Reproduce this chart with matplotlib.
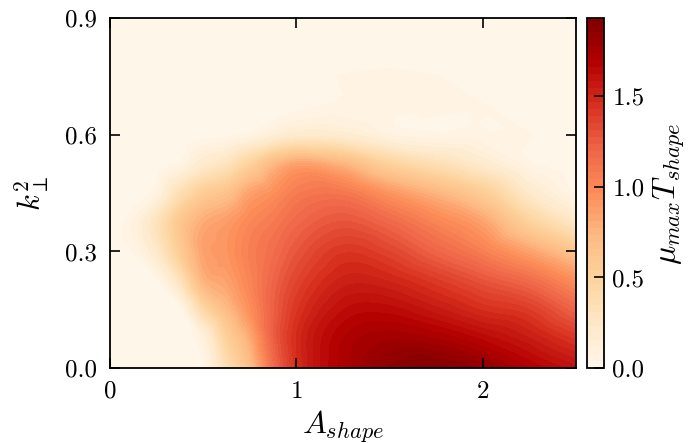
import numpy as np
import matplotlib
matplotlib.use("Agg")
import matplotlib.pyplot as plt
import matplotlib.tri as mtri

plt.rcParams['font.family'] = 'serif'
plt.rcParams['font.serif'] = ['cmr10', 'DejaVu Serif']
plt.rcParams['mathtext.fontset'] = 'cm'
plt.rcParams['axes.unicode_minus'] = False
plt.rcParams['axes.formatter.use_mathtext'] = True

# grid of A_shape (x) and k_perp^2 (y)
a_shape = [0.0, 0.125, 0.25, 0.375, 0.5, 0.625, 0.75, 0.875, 1.0, 1.25, 1.5, 1.75, 2.0, 2.25, 2.5]
k_perp2 = [0.0, 0.075, 0.15, 0.225, 0.3, 0.375, 0.45, 0.525, 0.6, 0.675, 0.75, 0.825, 0.9]

# mu_max * T_shape, one list per A_shape column (values along k_perp^2)
col_000 = [0, 0, 0, 0, 0, 0, 0, 0, 0, 0, 0, 0, 0]
col_0125 = [0, 0, 0, 0, 0.04, 0.08, 0, 0, 0, 0, 0, 0, 0]
col_025 = [0, 0, 0, 0.02, 0.22, 0.3, 0.08, 0, 0, 0, 0, 0, 0]
col_0375 = [0, 0, 0.02, 0.3, 0.55, 0.6, 0.35, 0.05, 0, 0, 0, 0, 0]
col_050 = [0.02, 0.1, 0.42, 0.75, 0.85, 0.8, 0.55, 0.2, 0.02, 0, 0, 0, 0]
col_0625 = [0.35, 0.5, 0.7, 0.85, 0.92, 0.88, 0.65, 0.3, 0.02, 0, 0, 0, 0]
col_075 = [0.68, 0.8, 0.95, 1.02, 1.05, 1.0, 0.85, 0.5, 0.06, 0, 0, 0, 0]
col_0875 = [1.15, 1.22, 1.22, 1.2, 1.15, 1.08, 0.95, 0.72, 0.14, 0, 0, 0, 0]
col_100 = [1.45, 1.47, 1.42, 1.35, 1.27, 1.18, 1.07, 0.85, 0.2, 0.02, 0, 0, 0]
col_125 = [1.72, 1.7, 1.62, 1.52, 1.42, 1.28, 1.1, 0.75, 0.18, 0.05, 0.04, 0, 0]
col_150 = [1.86, 1.77, 1.64, 1.5, 1.35, 1.18, 0.92, 0.5, 0.08, 0.05, 0.05, 0, 0]
col_175 = [1.91, 1.74, 1.56, 1.4, 1.2, 1.02, 0.75, 0.35, 0.05, 0.05, 0.04, 0, 0]
col_200 = [1.84, 1.65, 1.46, 1.28, 1.05, 0.85, 0.55, 0.2, 0.05, 0.04, 0, 0, 0]
col_225 = [1.7, 1.55, 1.39, 1.16, 0.85, 0.5, 0.22, 0.05, 0.04, 0, 0, 0, 0]
col_250 = [1.6, 1.42, 1.2, 0.95, 0.62, 0.25, 0.03, 0, 0, 0, 0, 0, 0]

growth = np.array([col_000, col_0125, col_025, col_0375, col_050, col_0625, col_075,
                   col_0875, col_100, col_125, col_150, col_175, col_200, col_225,
                   col_250]).T

fig = plt.figure(figsize=(6.91, 4.43), dpi=100)
ax = fig.add_axes([0.159, 0.169, 0.675, 0.790])
cax = fig.add_axes([0.849, 0.169, 0.025, 0.790])

# smooth the coarse grid for drawing
X, Y = np.meshgrid(a_shape, k_perp2)
tri = mtri.Triangulation(X.ravel(), Y.ravel())
interp = mtri.CubicTriInterpolator(tri, growth.ravel(), kind='geom')
refiner = mtri.UniformTriRefiner(tri)
tri_f, z_f = refiner.refine_field(growth.ravel(), triinterpolator=interp, subdiv=3)
z_f = np.clip(z_f, 0, 1.929)

levels = np.linspace(0, 1.93, 51)
cs = ax.tricontourf(tri_f, z_f, levels=levels, cmap='OrRd')

ax.set_xlim(0, 2.5)
ax.set_ylim(0, 0.9)
ax.set_xticks([0, 1, 2])
ax.set_yticks([0.0, 0.3, 0.6, 0.9])
ax.set_yticklabels(['0.0', '0.3', '0.6', '0.9'])
ax.tick_params(direction='in', length=7, width=1.2, labelsize=18, pad=9,
               top=True, right=True)
for s in ax.spines.values():
    s.set_linewidth(1.3)
ax.set_xlabel(r'$A_{shape}$', fontsize=23, labelpad=4)
ax.set_ylabel(r'$k_{\perp}^2$', fontsize=22, labelpad=10)

cb = fig.colorbar(cs, cax=cax, ticks=[0.0, 0.5, 1.0, 1.5])
cb.ax.set_yticklabels(['0.0', '0.5', '1.0', '1.5'])
cb.ax.tick_params(direction='in', length=7, width=1.2, labelsize=18, pad=6)
cb.outline.set_linewidth(1.3)
fig.text(0.969, 0.562, r'$\mu_{max}T_{shape}$', fontsize=23, rotation=90,
         ha='center', va='center')

fig.savefig('out.png', dpi=100)
